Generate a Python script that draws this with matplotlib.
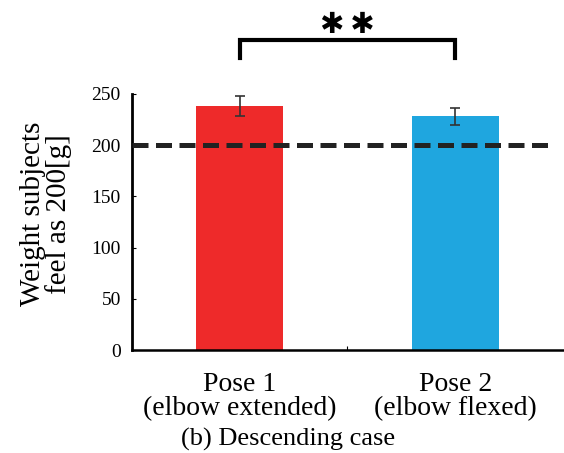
import numpy as np
import matplotlib.pyplot as plt

plt.rcParams['font.family'] = ['Liberation Serif', 'DejaVu Serif']

poses = ["Pose 1\n(elbow extended)", "Pose 2\n(elbow flexed)"]
means = [238, 228]
errors = [10, 8]
colors = ["#ee2a2a", "#1fa6df"]
reference = 200
yticks = [0, 50, 100, 150, 200, 250]

fig = plt.figure(figsize=(5.64, 4.53), dpi=100)
ax = fig.add_axes([0.234, 0.227, 0.764, 0.566])

x = np.arange(len(poses))
ax.bar(x, means, width=0.405, color=colors, zorder=2)
ax.errorbar(x, means, yerr=errors, fmt="none", ecolor="#333333",
            elinewidth=1.2, capsize=3.5, capthick=1.2, zorder=3)

ax.axhline(reference, xmin=0, xmax=0.965, color="#222222", lw=3.6,
           dashes=(3.2, 1.5), zorder=4)

ax.set_xlim(-0.5, 1.5)
ax.set_ylim(0, 250)
ax.set_yticks(yticks)
ax.tick_params(axis="y", direction="in", length=3, labelsize=14, pad=8)
ax.set_xticks([0.5])
ax.set_xticklabels([""])
ax.set_xticks(x, minor=True)
ax.set_xticklabels(poses, minor=True, fontsize=20, linespacing=0.92)
ax.tick_params(axis="x", which="major", direction="in", length=3)
ax.tick_params(axis="x", which="minor", length=0, pad=16)

for s in ["top", "right"]:
    ax.spines[s].set_visible(False)
ax.spines["left"].set_linewidth(2)
ax.spines["bottom"].set_linewidth(1.8)

ax.set_ylabel("Weight subjects\nfeel as 200[g]", fontsize=21, linespacing=0.92)
ax.yaxis.set_label_coords(-0.14, 0.53)

# significance bracket
ax.plot([0, 0, 1, 1], [285, 302, 302, 285], color="black", lw=3,
        clip_on=False, solid_joinstyle="miter")
ax.text(0.5, 309, "\u2731\u2009\u2731", ha="center", va="baseline", fontsize=21,
        family="DejaVu Sans", clip_on=False)

fig.text(0.51, 0.03, "(b) Descending case", ha="center", va="center",
         fontsize=19)

fig.savefig("out.png", dpi=100)
